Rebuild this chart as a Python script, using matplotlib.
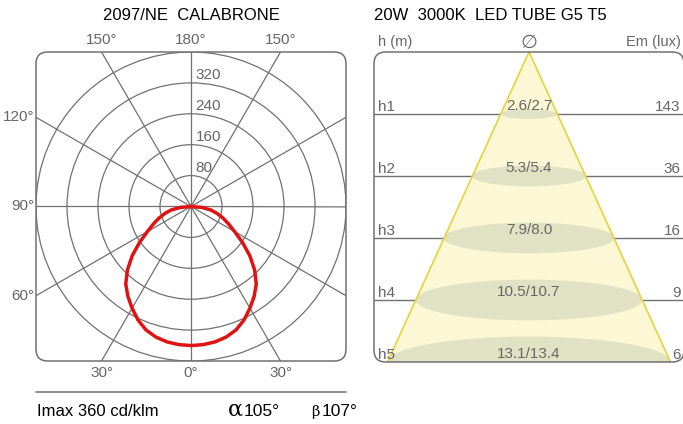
import numpy as np
import matplotlib
matplotlib.use("Agg")
import matplotlib.pyplot as plt
from matplotlib.patches import FancyBboxPatch, Circle, Ellipse, Polygon

plt.rcParams['font.family'] = ['Liberation Sans', 'DejaVu Sans']

# polar curve (cd/klm), 0 deg = straight down, symmetric
angles = [0, 5, 10, 15, 20, 25, 30, 35, 40, 45, 50, 55, 60, 65, 70, 75, 80, 85, 90]
intensity = [360, 359, 356, 350, 340, 324, 304, 284, 262, 232, 198, 162, 130, 107, 88, 70, 52, 28, 0]
rings = [80, 160, 240, 320, 400]
ring_labels = ['80', '160', '240', '320']
imax = 360
alpha_deg = 105
beta_deg = 107

# cone diagram
levels = ['h1', 'h2', 'h3', 'h4', 'h5']
diam_a = [2.6, 5.3, 7.9, 10.5, 13.1]
diam_b = [2.7, 5.4, 8.0, 10.7, 13.4]
lux = [143, 36, 16, 9, 6]

GRID = '#717171'
TXT = '#666666'
W, H = 683, 424

fig = plt.figure(figsize=(W / 100, H / 100), dpi=100)


def px_axes(x0, y0, x1, y1):
    return fig.add_axes([x0 / W, 1 - y1 / H, (x1 - x0) / W, (y1 - y0) / H])


# ---------------- left: polar diagram ----------------
ax = px_axes(36, 52, 346, 361)
R = 400
ax.set_xlim(-R, R)
ax.set_ylim(-R, R)
ax.axis('off')

box = FancyBboxPatch((0, 0), 1, 1, boxstyle='round,pad=0,rounding_size=0.038',
                     transform=ax.transAxes, fc='none', ec=GRID, lw=1.1, zorder=5, clip_on=False)
ax.add_patch(box)

for r in rings:
    c = Circle((0, 0), r, fc='none', ec=GRID, lw=0.9, zorder=1)
    ax.add_patch(c)
    c.set_clip_path(box)
for a in range(0, 360, 30):
    t = np.radians(a)
    ln, = ax.plot([0, 1000 * np.sin(t)], [0, -1000 * np.cos(t)], color=GRID, lw=0.9, zorder=1)
    ln.set_clip_path(box)

for r, s in zip(rings, ring_labels):
    ax.text(12, r + 20, s, color=TXT, fontsize=11, ha='left', va='center', zorder=6)

th = np.radians(np.array(angles))
I = np.array(intensity)
th_full = np.concatenate([-th[::-1], th[1:]])
I_full = np.concatenate([I[::-1], I[1:]])
ax.plot(I_full * np.sin(th_full), -I_full * np.cos(th_full), color='#e01212', lw=2.5,
        zorder=4, solid_joinstyle='round')

off = R * np.tan(np.radians(30))
for x, s in [(-off, '150°'), (0, '180°'), (off, '150°')]:
    ax.text(x, R + 30, s, color=TXT, fontsize=11, ha='center', va='center', clip_on=False)
for x, s in [(-off, '30°'), (0, '0°'), (off, '30°')]:
    ax.text(x, -R - 30, s, color=TXT, fontsize=11, ha='center', va='center', clip_on=False)
for y, s in [(off, '120°'), (0, '90°'), (-off, '60°')]:
    ax.text(-R - 5, y, s, color=TXT, fontsize=11, ha='right', va='center', clip_on=False)

fig.text(191 / W, 1 - 16 / H, '2097/NE  CALABRONE', fontsize=12, ha='center', va='center')
fig.add_artist(plt.Line2D([36 / W, 346 / W], [1 - 392 / H, 1 - 392 / H], color=GRID, lw=1.1))
fig.text(37 / W, 1 - 412 / H, 'Imax %d cd/klm' % imax, fontsize=12, ha='left', va='center')
fig.text(228 / W, 1 - 410 / H, 'α', fontsize=16, ha='left', va='center', family=['DejaVu Serif'])
fig.text(244 / W, 1 - 412 / H, '%d°' % alpha_deg, fontsize=12.5, ha='left', va='center')
fig.text(311 / W, 1 - 412 / H, 'β', fontsize=10.5, ha='left', va='center', family=['DejaVu Serif'])
fig.text(322 / W, 1 - 412 / H, '%d°' % beta_deg, fontsize=12.5, ha='left', va='center')

# ---------------- right: light cone ----------------
ax2 = px_axes(374, 52, 684, 362)
half = 155 / 21.6
n = len(levels)
ax2.set_xlim(-half, half)
ax2.set_ylim(n, 0)
ax2.axis('off')

box2 = FancyBboxPatch((0, 0), 1, 1, boxstyle='round,pad=0,rounding_size=0.038',
                      transform=ax2.transAxes, fc='none', ec=GRID, lw=1.1, zorder=5, clip_on=False)
ax2.add_patch(box2)

ypos = np.arange(1, n + 1)
for y in ypos[:-1]:
    ln, = ax2.plot([-half, half], [y, y], color=GRID, lw=1.0, zorder=1)
    ln.set_clip_path(box2)

xb = diam_a[-1] / 2
tri = Polygon([(0, 0), (-xb, n), (xb, n)], closed=True, fc='#fcf8d5', ec='none', zorder=2)
ax2.add_patch(tri)
tri.set_clip_path(box2)
for y, d in zip(ypos, diam_a):
    e = Ellipse((0, y), d, 0.18 * d * 21.6 / 62, fc='#e1e2c3', ec='none', zorder=3)
    ax2.add_patch(e)
    e.set_clip_path(box2)
ax2.plot([-xb, 0, xb], [n, 0, n], color='#e8d23c', lw=1.2, zorder=4)

for y, h, a, b, e in zip(ypos, levels, diam_a, diam_b, lux):
    ax2.text(0, y - 0.13, '%.1f/%.1f' % (a, b), color=TXT, fontsize=11, ha='center', va='center', zorder=6)
    ax2.text(-half + 0.2, y - 0.12, h, color=TXT, fontsize=11, ha='left', va='center', zorder=6)
    ax2.text(half - 0.15, y - 0.12, str(e), color=TXT, fontsize=11, ha='right', va='center', zorder=6)

fig.text(374 / W, 1 - 16 / H, '20W  3000K  LED TUBE G5 T5', fontsize=12, ha='left', va='center')
fig.text(378 / W, 1 - 42 / H, 'h (m)', color=TXT, fontsize=10.5, ha='left', va='center')
fig.text(529 / W, 1 - 42 / H, '∅', color=TXT, fontsize=14, ha='center', va='center', family=['DejaVu Sans'])
fig.text(681 / W, 1 - 42 / H, 'Em (lux)', color=TXT, fontsize=10.5, ha='right', va='center')

fig.savefig('out.png', dpi=100)
